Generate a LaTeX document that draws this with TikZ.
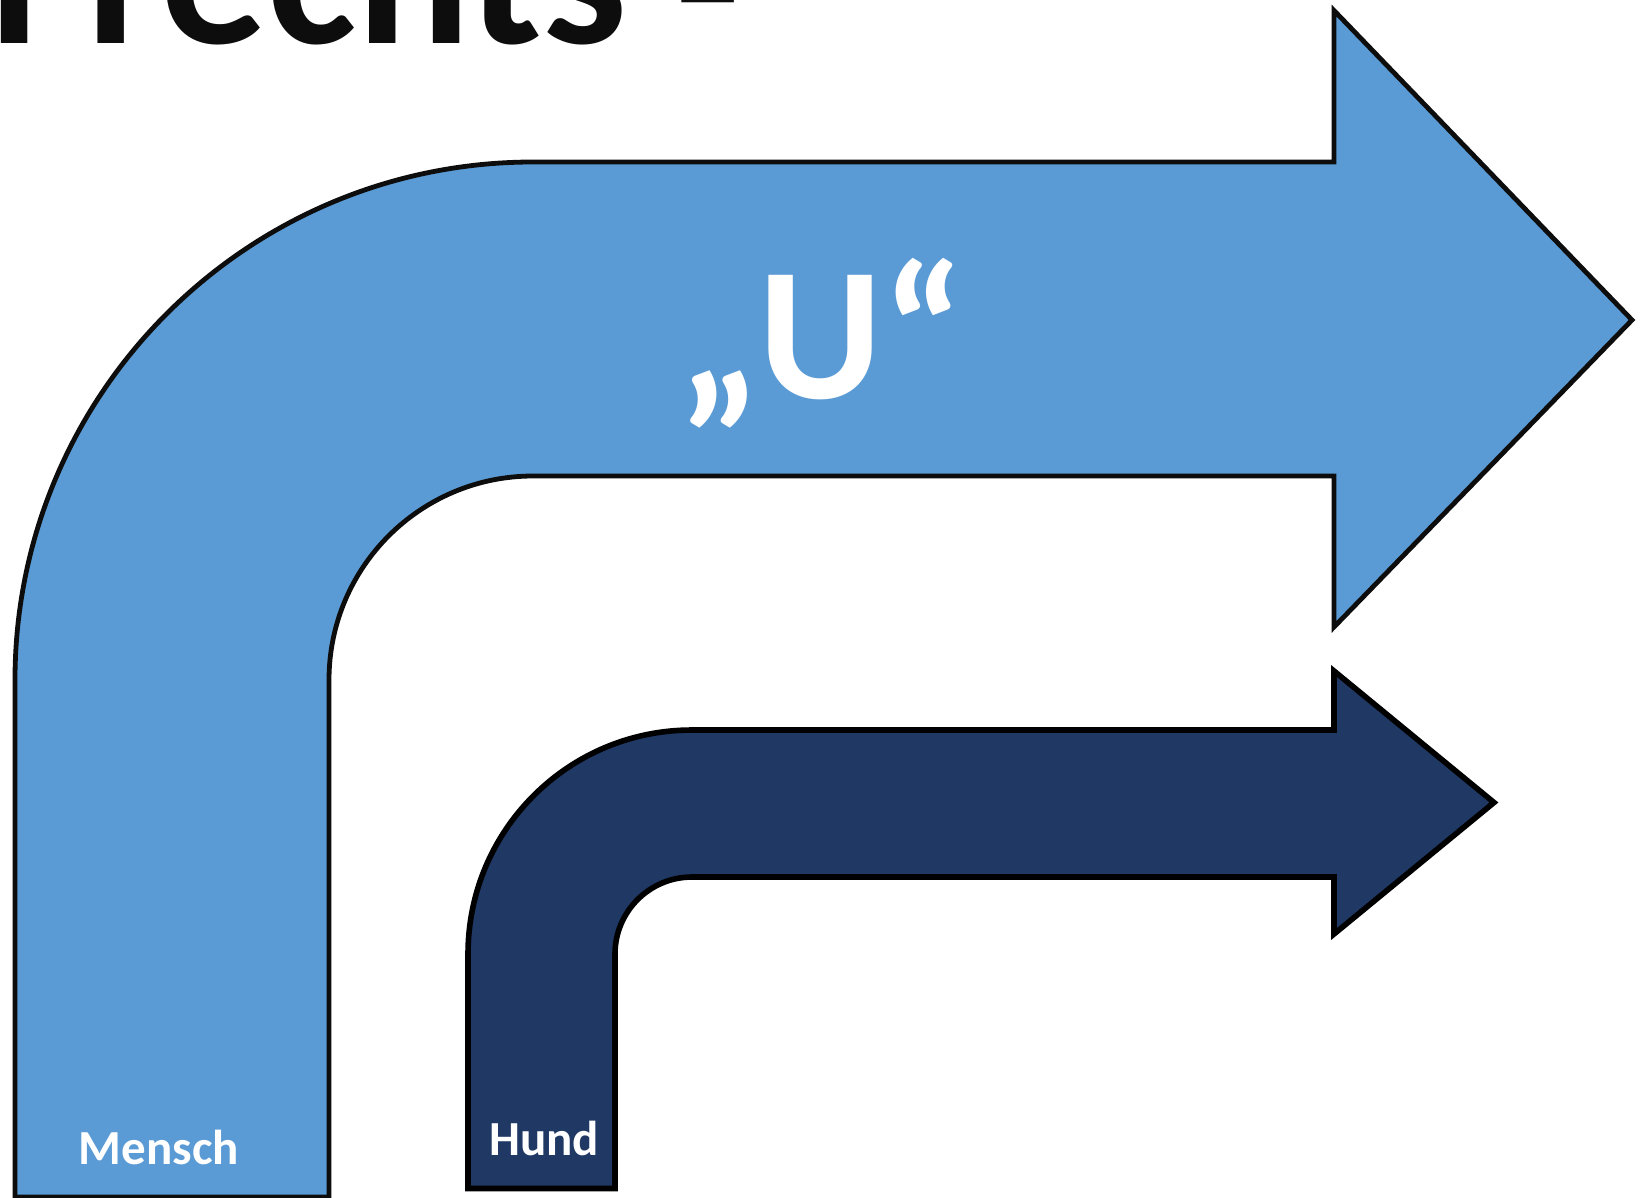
\documentclass[tikz,border=0pt]{standalone}
\usepackage{fontspec}
\setmainfont{Carlito}
\definecolor{lightarrow}{HTML}{5B9BD5}
\definecolor{darkarrow}{HTML}{1F3864}
\definecolor{outline}{HTML}{0D0D0D}
\begin{document}
\begin{tikzpicture}[x=1pt,y=-1pt,
  bigarrow/.style={fill=lightarrow,draw=outline,line width=4.8pt,line join=miter},
  smallarrow/.style={fill=darkarrow,draw=black,line width=5.6pt,line join=miter},
  label/.style={text=white,inner sep=0pt,font=\bfseries\fontsize{49}{49}\selectfont}]
\useasboundingbox (0,0) rectangle (1645,1197);
\clip (0,0) rectangle (1645,1197);
\fill[white] (0,0) rectangle (1645,1197);
% title (cut off at the top, as in the original)
\node[anchor=base east,inner sep=0pt,text=outline,font=\bfseries\fontsize{213}{213}\selectfont] (title) at (741,43) {nach rechts \raisebox{-9pt}{-}};
% big light arrow
\path[bigarrow] (15,1197) -- (15,680) arc[start angle=180,end angle=270,radius=518]
  -- (1334,162) -- (1334,10.5) -- (1632,320) -- (1334,627) -- (1334,476)
  -- (533,476) arc[start angle=270,end angle=180,radius=204]
  -- (329,1197) -- cycle;
% small dark arrow
\path[smallarrow] (468,1188.5) -- (468,954) arc[start angle=180,end angle=270,radius=224]
  -- (1334,730) -- (1334,671) -- (1494,802.5) -- (1334,934) -- (1334,877)
  -- (692,877) arc[start angle=270,end angle=180,radius=77]
  -- (615,1188.5) -- cycle;
% texts
\node[anchor=base,inner sep=0pt,text=white,font=\bfseries\fontsize{190}{190}\selectfont] (u) at (822,398) {„U“};
\node[label,anchor=base] (mensch) at (159,1164) {Mensch};
\node[label,anchor=base] (hund) at (544,1155) {Hund};
\end{tikzpicture}
\end{document}
